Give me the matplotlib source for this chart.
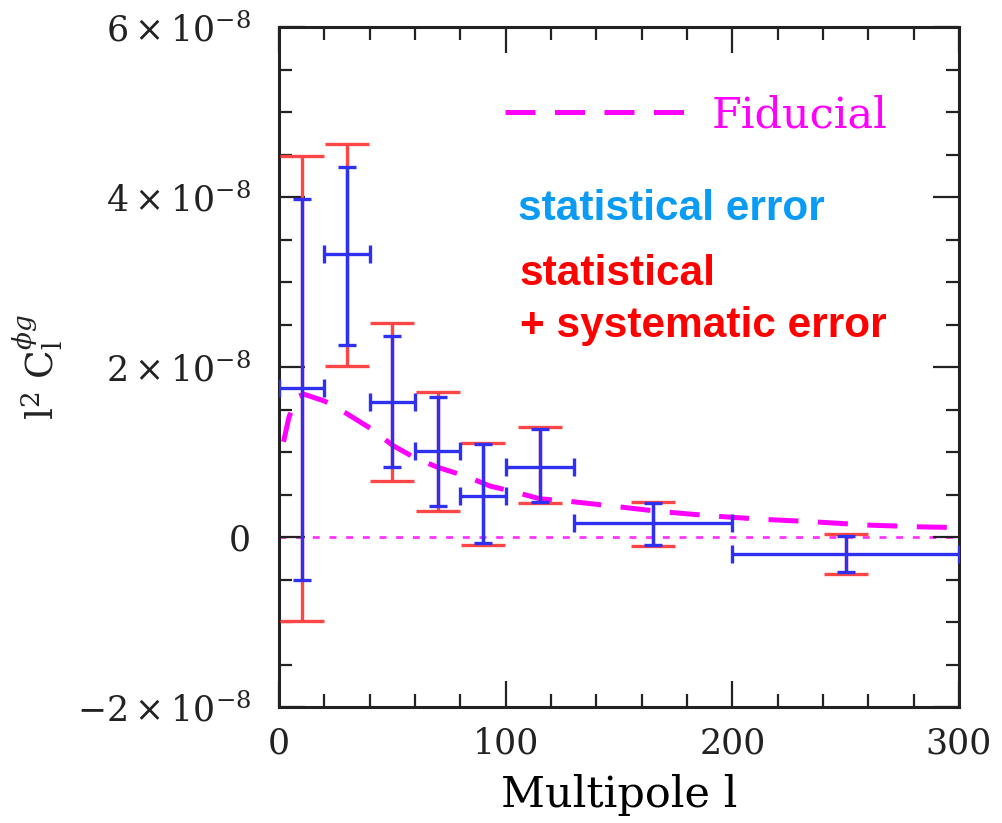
import numpy as np
import matplotlib
matplotlib.use("Agg")
import matplotlib.pyplot as plt
from matplotlib.ticker import MultipleLocator

# band powers, in units of 1e-8
ell = np.array([10, 30, 50, 70, 90, 115, 165, 250])
ell_lo = np.array([0, 20, 40, 60, 80, 100, 130, 200])
ell_hi = np.array([20, 40, 60, 80, 100, 130, 200, 300])
cl = np.array([1.75, 3.33, 1.59, 1.01, 0.48, 0.82, 0.16, -0.20])
stat_lo = np.array([-0.50, 2.26, 0.82, 0.36, -0.07, 0.41, -0.09, -0.41])
stat_hi = np.array([3.98, 4.35, 2.36, 1.65, 1.09, 1.27, 0.40, 0.01])
tot_lo = np.array([-0.99, 2.01, 0.66, 0.31, -0.09, 0.40, -0.11, -0.43])
tot_hi = np.array([4.48, 4.62, 2.52, 1.71, 1.11, 1.29, 0.41, 0.03])

# fiducial model curve
fid_ell = [2, 4.4, 8, 11, 20, 30, 42, 50, 60, 70, 83, 93, 104, 115, 128, 145,
           168, 190, 212, 235, 260, 282, 300]
fid_cl = [1.12, 1.41, 1.65, 1.68, 1.60, 1.45, 1.25, 1.08, 0.93, 0.82, 0.71, 0.60,
          0.53, 0.45, 0.42, 0.37, 0.30, 0.25, 0.21, 0.18, 0.14, 0.12, 0.11]

yticks = [-2, 0, 2, 4, 6]
ytick_labels = [r'$-2\times10^{-8}$', '0', r'$2\times10^{-8}$', r'$4\times10^{-8}$', r'$6\times10^{-8}$']

plt.rcParams['mathtext.fontset'] = 'dejavuserif'
plt.rcParams['font.family'] = 'DejaVu Serif'

fig = plt.figure(figsize=(10.02, 8.23), dpi=100)
ax = fig.add_axes([279/1002, 1-707/823, 680/1002, 680/823])

red = '#ff4646'
blue = '#3030f0'
mag = '#ff00ff'

ax.axhline(0, color=mag, lw=2, ls=(0, (2.5, 3.5)), alpha=0.8, zorder=1)
ax.plot(fid_ell, fid_cl, color=mag, lw=3.6, dashes=(6, 3.9), zorder=2, label='Fiducial')

ax.errorbar(ell, cl, yerr=[cl - tot_lo, tot_hi - cl], fmt='none', ecolor=red,
            elinewidth=2.4, capsize=16, capthick=2.4, zorder=3)
ax.errorbar(ell, cl, yerr=[cl - stat_lo, stat_hi - cl], xerr=[ell - ell_lo, ell_hi - ell],
            fmt='none', ecolor=blue, elinewidth=2.4, capsize=6.5, capthick=2.4, zorder=4)

ax.set_xlim(0, 300)
ax.set_ylim(-2, 6)
ax.set_xticks([0, 100, 200, 300])
ax.set_yticks(yticks)
ax.set_yticklabels(ytick_labels)
ax.xaxis.set_minor_locator(MultipleLocator(20))
ax.yaxis.set_minor_locator(MultipleLocator(0.5))
ax.tick_params(which='both', direction='in', top=True, right=True, colors='#222222', width=1.6)
ax.tick_params(which='major', length=19, labelsize=25)
ax.tick_params(which='minor', length=9.5)
ax.tick_params(axis='y', pad=20)
ax.tick_params(axis='x', pad=14)
for s in ax.spines.values():
    s.set_linewidth(2.2)
    s.set_color('#222222')

ax.set_xlabel('Multipole l', fontsize=31, labelpad=10)
fig.text(38/1002, 1-367/823, r'$\mathrm{l}^{2}\ \mathrm{C}_{\mathrm{l}}^{\phi g}$',
         rotation=90, fontsize=27, ha='center', va='center', color='#222222')

leg = ax.legend(loc='center left', bbox_to_anchor=((505-279)/680, 1-(115-27)/680),
                frameon=False, fontsize=31, handlelength=4.25, handletextpad=0.55,
                borderpad=0, borderaxespad=0, labelcolor=mag)

ax.text(0.351, 1-(220-27)/680, 'statistical error', transform=ax.transAxes,
        fontsize=30.5, fontweight='bold', family='Liberation Sans', color='#0a9bf5', va='baseline')
ax.text(0.354, 1-(285-27)/680, 'statistical', transform=ax.transAxes,
        fontsize=30.5, fontweight='bold', family='Liberation Sans', color='#ff0000', va='baseline')
ax.text(0.354, 1-(337-27)/680, '+ systematic error', transform=ax.transAxes,
        fontsize=30.5, fontweight='bold', family='Liberation Sans', color='#ff0000', va='baseline')

fig.savefig('out.png', dpi=100)
